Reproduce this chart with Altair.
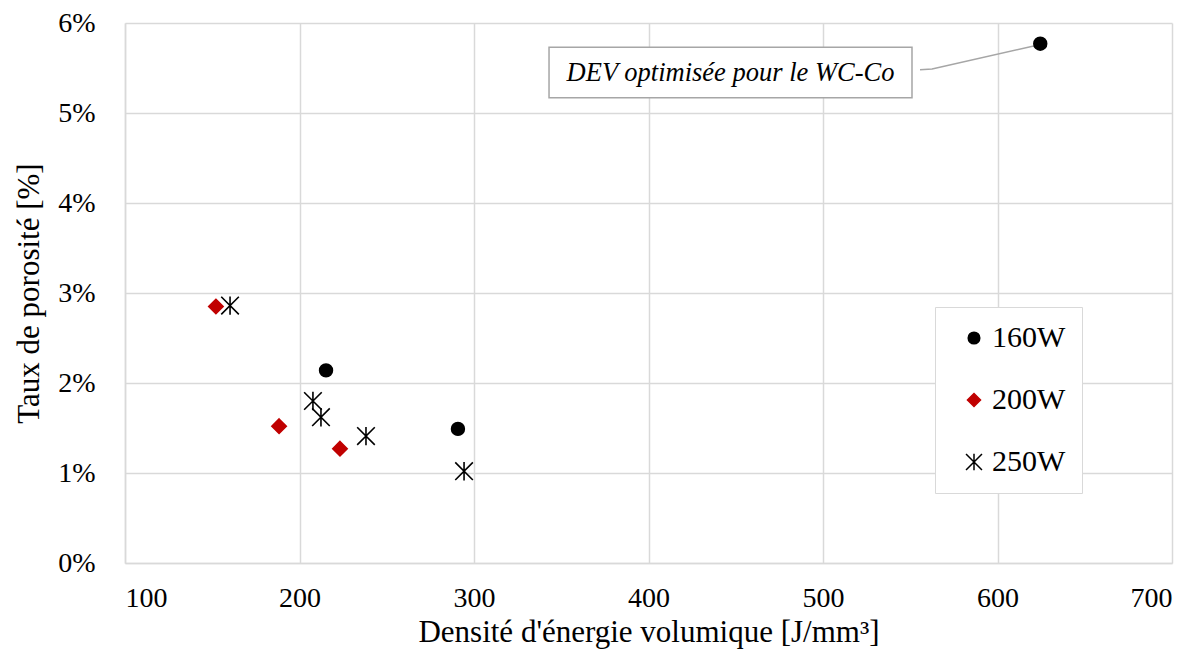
import altair as alt
import pandas as pd

# Data
series_160_x = [215.2, 290.8, 624.5]
series_160_y = [2.14, 1.49, 5.77]
series_200_x = [152.1, 188.3, 223.2]
series_200_y = [2.85, 1.52, 1.27]
series_250_x = [160.2, 207.7, 212.3, 238.1, 294.3]
series_250_y = [2.86, 1.80, 1.62, 1.41, 1.02]
series_names = ["160W", "200W", "250W"]
series_colors = ["#000000", "#C00000", "#000000"]

x_ticks = [100, 200, 300, 400, 500, 600, 700]
y_ticks = [0, 0.01, 0.02, 0.03, 0.04, 0.05, 0.06]

annot_text = "DEV optimisée pour le WC-Co"
annot_box_x = [343, 551]
annot_box_y = [5.17, 5.73]
leader_x = [555.6, 562.5, 622.0]
leader_y = [5.48, 5.49, 5.75]

rows = []
for name, xs, ys in zip(series_names, [series_160_x, series_200_x, series_250_x],
                        [series_160_y, series_200_y, series_250_y]):
    for xv, yv in zip(xs, ys):
        rows.append({"x": xv, "y": yv / 100, "s": name})
df = pd.DataFrame(rows)

FONT = "'Liberation Serif', 'Times New Roman', Times, serif"
circle_path = "M0.8,0A0.8,0.8,0,1,1,-0.8,0A0.8,0.8,0,1,1,0.8,0Z"
diamond_path = "M0,-0.9L0.9,0L0,0.9L-0.9,0Z"
star_path = "M-1.1,-1.1L1.1,1.1M-1.1,1.1L1.1,-1.1M0,-1.15L0,1.15"
shapes = [circle_path, diamond_path, star_path]

xscale = alt.Scale(domain=[100, 700], nice=False)
yscale = alt.Scale(domain=[0, 0.06], nice=False)

x_enc = alt.X("x:Q", scale=xscale, axis=alt.Axis(
    values=x_ticks, title="Densité d'énergie volumique [J/mm³]", format="d"))
y_enc = alt.Y("y:Q", scale=yscale, axis=alt.Axis(
    values=y_ticks, title="Taux de porosité [%]", format=".0%"))

legend = alt.Legend(
    title=None, orient="none", legendX=810, legendY=284,
    strokeColor="#d9d9d9", fillColor="white", padding=16,
    labelFont=FONT, labelFontSize=30, labelColor="black",
    symbolSize=210, rowPadding=32, symbolOffset=8, labelOffset=3,
    symbolStrokeWidth=1.5, labelLimit=200,
)

points = alt.Chart(df).mark_point(filled=True, size=256, strokeWidth=1.6, opacity=1).encode(
    x=x_enc, y=y_enc,
    fill=alt.Fill("s:N", scale=alt.Scale(domain=series_names, range=series_colors), legend=legend),
    stroke=alt.Stroke("s:N", scale=alt.Scale(domain=series_names, range=series_colors), legend=legend),
    shape=alt.Shape("s:N", scale=alt.Scale(domain=series_names, range=shapes), legend=legend),
)

box_df = pd.DataFrame({"x": [annot_box_x[0]], "x2": [annot_box_x[1]],
                       "y": [annot_box_y[0]/100], "y2": [annot_box_y[1]/100]})
box = alt.Chart(box_df).mark_rect(fill="white", stroke="#a6a6a6", strokeWidth=1.5).encode(
    x=alt.X("x:Q", scale=xscale), x2="x2:Q",
    y=alt.Y("y:Q", scale=yscale), y2="y2:Q")

txt_df = pd.DataFrame({"x": [(annot_box_x[0]+annot_box_x[1])/2],
                       "y": [(annot_box_y[0]+annot_box_y[1])/200],
                       "t": [annot_text]})
txt = alt.Chart(txt_df).mark_text(font=FONT, fontSize=26.5, fontStyle="italic",
                                  color="black", baseline="middle", align="center").encode(
    x=alt.X("x:Q", scale=xscale), y=alt.Y("y:Q", scale=yscale), text="t:N")

lead_df = pd.DataFrame({"x": leader_x, "y": [v/100 for v in leader_y], "o": [0, 1, 2]})
lead = alt.Chart(lead_df).mark_line(color="#a6a6a6", strokeWidth=1.5).encode(
    x=alt.X("x:Q", scale=xscale), y=alt.Y("y:Q", scale=yscale), order="o:Q")

chart = alt.layer(lead, box, txt, points).properties(
    width=1047, height=540, autosize=alt.AutoSizeParams(type="none"),
    padding={"left": 117, "top": 15, "right": 22, "bottom": 90},
).configure_view(stroke=None).configure_axis(
    grid=True, gridColor="#d9d9d9", gridWidth=1.5,
    domainColor="#d9d9d9", domainWidth=1.5, ticks=False,
    labelFont=FONT, labelFontSize=28, labelColor="black",
    titleFont=FONT, titleFontSize=31, titleColor="black", titleFontWeight="normal",
).configure_axisX(labelPadding=21, titlePadding=5).configure_axisY(
    labelPadding=30, titlePadding=12)

chart.save("out.html", embed_options={"renderer": "svg", "actions": False})
